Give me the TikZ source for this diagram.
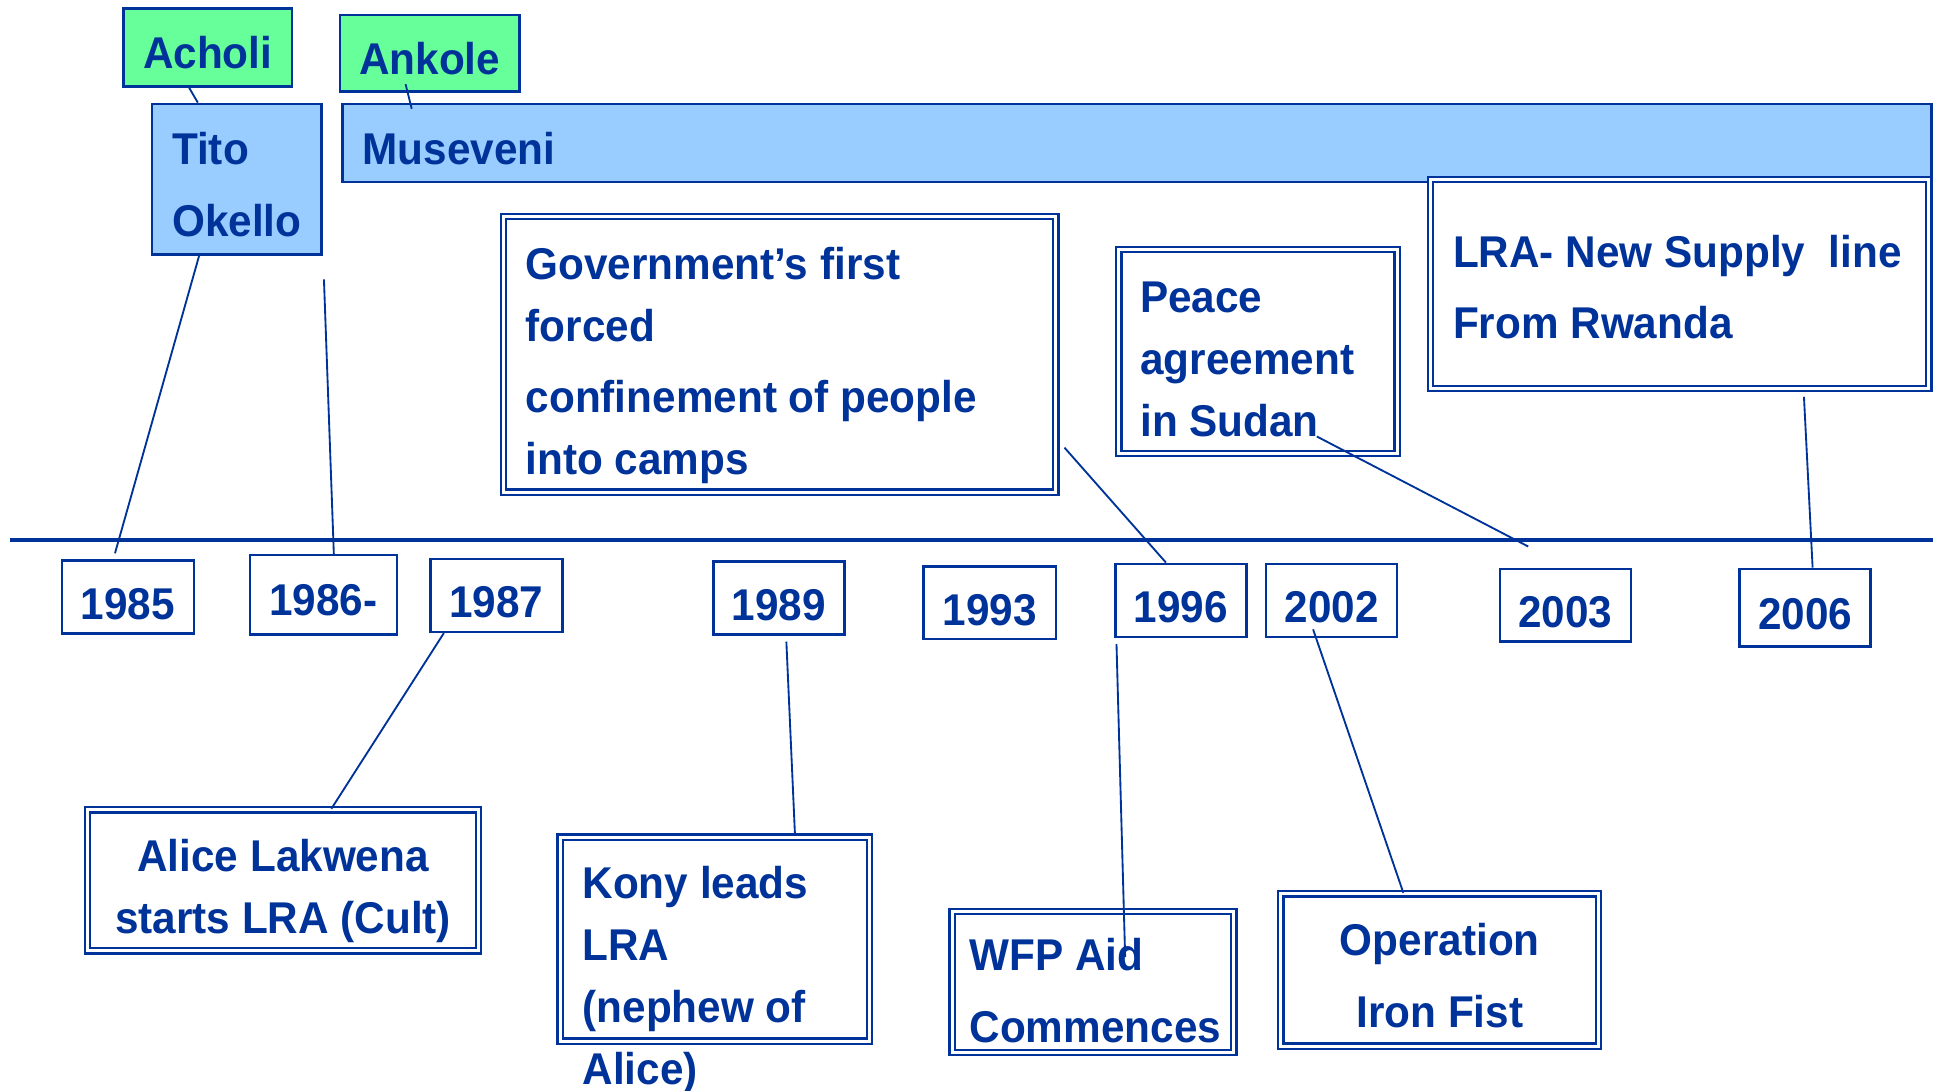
\documentclass[tikz,border=0pt]{standalone}
\usepackage{fontspec}
\setmainfont{Liberation Sans}[FakeStretch=0.95]
\usetikzlibrary{calc}
\definecolor{dblue}{HTML}{003399}
\definecolor{lgreen}{HTML}{66FF99}
\definecolor{lblue}{HTML}{99CCFF}
\newcommand\LeftLines[1]{\vtop{\halign{##\hfil\cr#1\crcr}}}
\newcommand\CenterLines[1]{\vtop{\halign{\hfil##\hfil\cr#1\crcr}}}
\begin{document}
\begin{tikzpicture}[x=1pt,y=-1pt,
  txt/.style={text=dblue, font=\fontsize{36}{50}\selectfont\bfseries, inner sep=0pt},
  lskip/.style={font=\fontsize{36}{#1}\selectfont\bfseries},
  box/.style={draw=dblue, line width=2pt, inner sep=0pt},
  dbox/.style={draw=dblue, line width=1.8pt, double=white, double distance=2.4pt, inner sep=0pt, fill=white},
  yearbox/.style={box, txt, fill=white, text height=36pt, text depth=0pt, minimum width=107pt, minimum height=59pt},
  conn/.style={draw=dblue, line width=1.5pt}]
\useasboundingbox[fill=white] (0,0) rectangle (1565,881.6);

% rulers
\node[box, fill=lgreen, txt, text height=34pt, text depth=0pt, minimum width=136pt, minimum height=63pt] (acholi) at (168,38.5) {Acholi};
\node[box, fill=lgreen, txt, text height=34pt, text depth=0pt, minimum width=145pt, minimum height=62pt] (ankole) at (347.5,43) {Ankole};
\node[box, fill=lblue, minimum width=137pt, minimum height=122pt] (tito) at (191.5,145) {};
\node[txt, lskip=58, anchor=base west] (titot) at (139,133) {\LeftLines{Tito\cr Okello}};
\node[box, fill=lblue, minimum width=1285pt, minimum height=63pt] (museveni) at (919.5,115.5) {};
\node[txt, anchor=base west] (musevenit) at (293,133) {Museveni};

% event boxes above
\node[dbox, minimum width=447pt, minimum height=223pt] (gov) at (630.5,286.5) {};
\node[txt, anchor=base west] (govt) at (425,226) {\LeftLines{Government’s first\cr forced\cr\noalign{\vskip8pt} confinement of people\cr into camps}};
\node[dbox, minimum width=225pt, minimum height=165pt] (peace) at (1017.5,284.5) {};
\node[txt, anchor=base west] (peacet) at (922,253) {\LeftLines{Peace\cr agreement\cr in Sudan}};
\node[dbox, minimum width=403pt, minimum height=169pt] (lra) at (1358.5,229.5) {};
\node[txt, lskip=58, anchor=base west] (lrat) at (1175,216) {\LeftLines{LRA- New Supply\ \ line\cr From Rwanda}};

% timeline
\coordinate (tlA) at (8,437);
\coordinate (tlB) at (1563,437);
\draw[dblue, line width=3pt] (tlA) -- (tlB);

% years
\node[yearbox] (y85) at (103.5,483) {1985};
\node[yearbox, minimum width=119pt, minimum height=64pt, text height=33pt] (y86) at (261.5,481) {1986-};
\node[yearbox] (y87) at (401.5,481.5) {1987};
\node[yearbox, minimum width=106pt] (y89) at (630,483.5) {1989};
\node[yearbox] (y93) at (800.5,487.5) {1993};
\node[yearbox, minimum width=106pt] (y96) at (955,485.5) {1996};
\node[yearbox, minimum width=106pt] (y02) at (1077,485.5) {2002};
\node[yearbox, minimum width=106pt] (y03) at (1266,489.5) {2003};
\node[yearbox, minimum width=106pt, minimum height=63pt] (y06) at (1460,491.5) {2006};

% event boxes below
\node[dbox, minimum width=316pt, minimum height=114pt] (alice) at (229,712) {};
\node[txt, anchor=base] (alicet) at (229,705) {\CenterLines{Alice Lakwena\cr starts LRA (Cult)}};
\node[dbox, minimum width=250pt, minimum height=165pt] (kony) at (578,759.5) {};
\node[txt, anchor=base west] (konyt) at (471,727) {\LeftLines{Kony leads\cr LRA\cr (nephew of\cr Alice)}};
\node[dbox, minimum width=228pt, minimum height=114pt] (wfp) at (884,794) {};
\node[txt, lskip=58, anchor=base west] (wfpt) at (784,785) {\LeftLines{WFP Aid\cr Commences}};
\node[dbox, minimum width=257pt, minimum height=123pt] (op) at (1164.5,784.5) {};
\node[txt, lskip=58, anchor=base] (opt) at (1164.5,773) {\CenterLines{Operation\cr Iron Fist}};

% connectors
\coordinate (c86) at (262,226);
\coordinate (e03) at (1236,442);
\draw[conn] ($(acholi.south)+(-15,0)$) -- ($(tito.north)+(-31.5,0)$);
\draw[conn] ($(ankole.south)+(-19.5,-7)$) -- ($(museveni.north west)+(57,5)$);
\draw[conn] ($(tito.south)+(-30.5,0)$) -- ($(y85.north)+(-10.5,-5)$);
\draw[conn] (c86) -- ($(y86.north)+(8.5,0)$);
\draw[conn] ($(y87.south)+(-42.5,0)$) -- ($(alice.north)+(39,0)$);
\draw[conn] ($(y89.south)+(6,5)$) -- ($(kony.north)+(65,0)$);
\draw[conn] ($(y96.south)+(-52,5)$) -- ($(wfp.north)+(26,38)$);
\draw[conn] ($(y02.south)+(-15,-7)$) -- ($(op.north)+(-29.5,0)$);
\draw[conn] ($(gov.east)+(6,75.5)$) -- ($(y96.north)+(-12,0)$);
\draw[conn] ($(peace.center)+(47.5,68.5)$) -- (e03);
\draw[conn] ($(lra.south)+(100.5,6)$) -- ($(y06.north)+(6,0)$);
\end{tikzpicture}
\end{document}
